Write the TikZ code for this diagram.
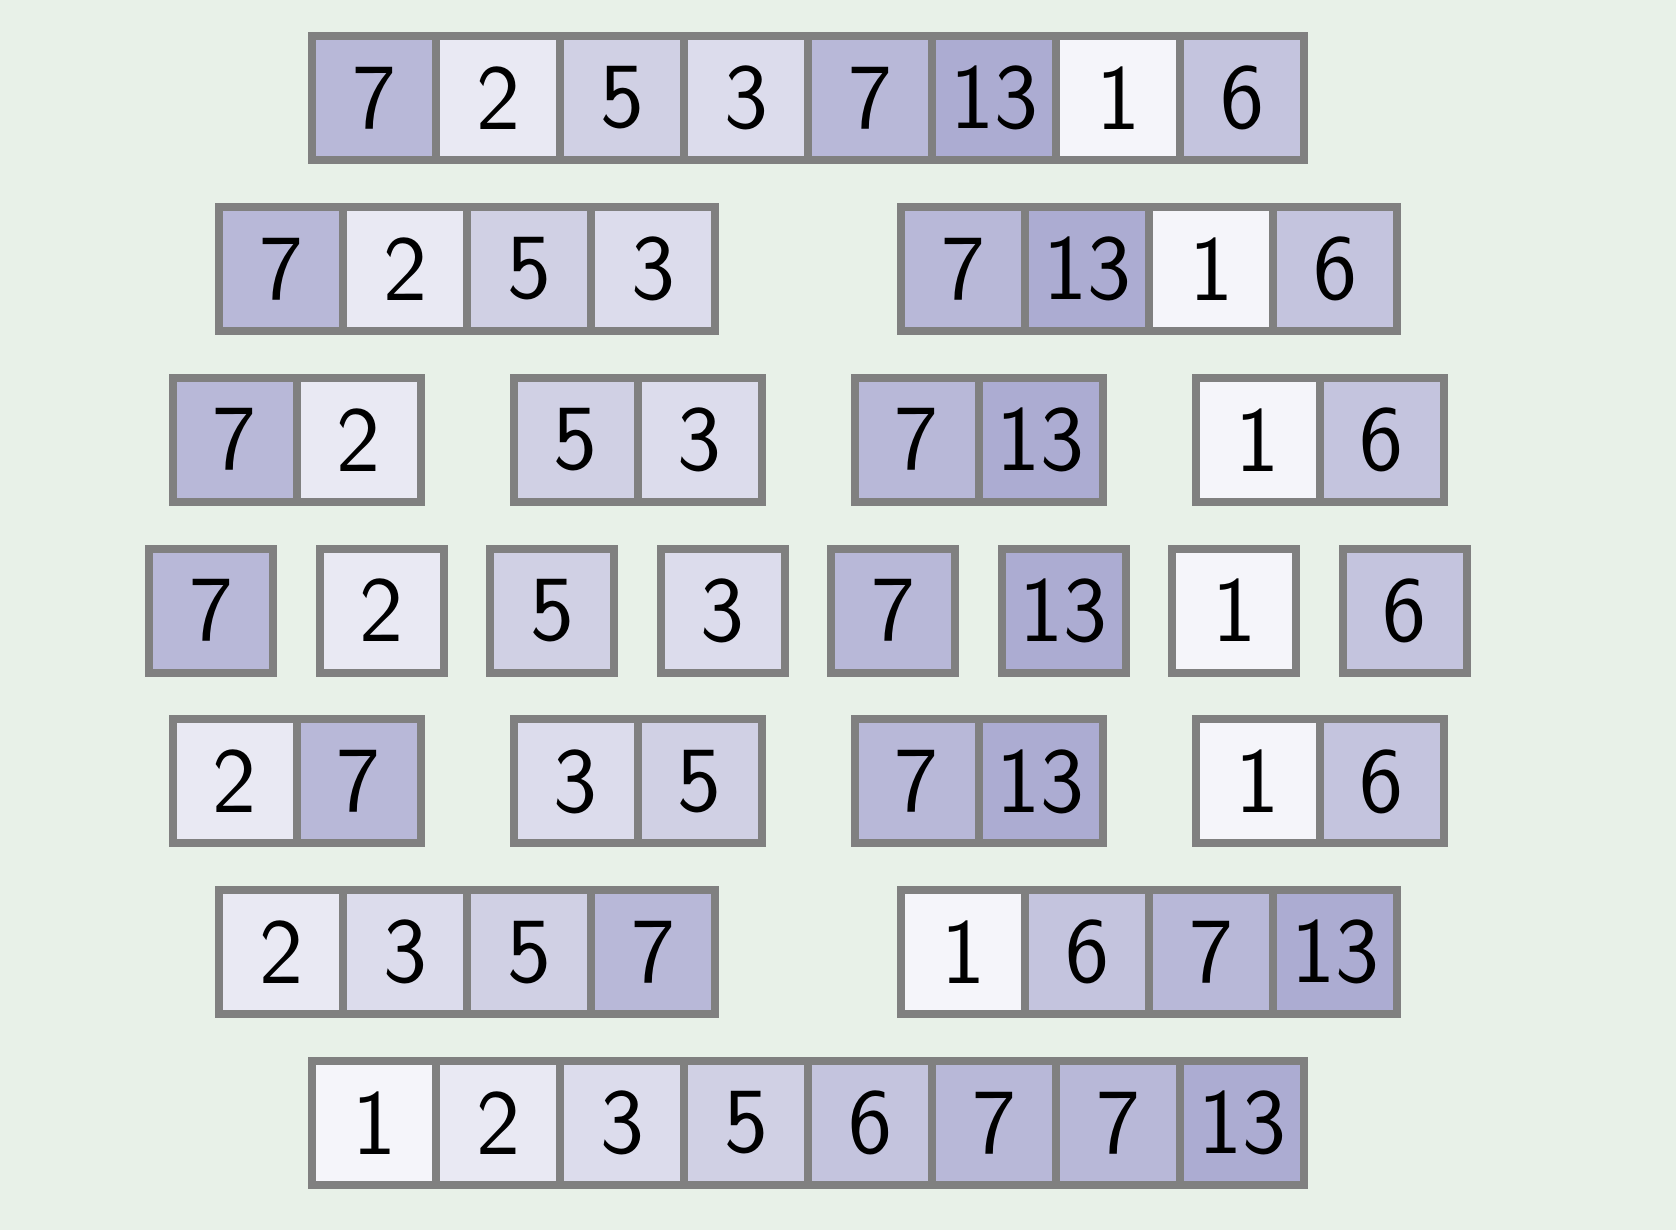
\documentclass[tikz,border=0pt]{standalone}
\usepackage{fontspec}
\usepackage{xcolor}
\usepackage{tikz}

\definecolor{bgreen}{RGB}{232,241,232}
\definecolor{rim}{RGB}{128,128,128}
\definecolor{vone}{RGB}{245,245,250}
\definecolor{vtwo}{RGB}{233,233,243}
\definecolor{vthree}{RGB}{220,220,236}
\definecolor{vfive}{RGB}{208,208,228}
\definecolor{vsix}{RGB}{196,196,222}
\definecolor{vseven}{RGB}{184,184,216}
\definecolor{vthirteen}{RGB}{172,172,210}

\begin{document}
\begin{tikzpicture}[x=0.75pt,y=0.75pt,yscale=-1,xscale=1,
  cell/.style={draw=rim,line width=6pt,minimum size=93pt,inner sep=0pt,
    font=\sffamily\fontsize{70}{70}\selectfont},
  v1/.style={cell,fill=vone},
  v2/.style={cell,fill=vtwo},
  v3/.style={cell,fill=vthree},
  v5/.style={cell,fill=vfive},
  v6/.style={cell,fill=vsix},
  v7/.style={cell,fill=vseven},
  v13/.style={cell,fill=vthirteen}]

\fill [bgreen] (0,0) rectangle (1676,1230);
\useasboundingbox (0,0) rectangle (1676,1230);

% input
\node [v7] (a1) at (374,98) {7};
\node [v2] (a2) at (498,98) {2};
\node [v5] (a3) at (622,98) {5};
\node [v3] (a4) at (746,98) {3};
\node [v7] (a5) at (870,98) {7};
\node [v13] (a6) at (994,98) {13};
\node [v1] (a7) at (1118,98) {1};
\node [v6] (a8) at (1242,98) {6};

% split in halves
\node [v7] (b1) at (281,268.85) {7};
\node [v2] (b2) at (405,268.85) {2};
\node [v5] (b3) at (529,268.85) {5};
\node [v3] (b4) at (653,268.85) {3};
\node [v7] (b5) at (963,268.85) {7};
\node [v13] (b6) at (1087,268.85) {13};
\node [v1] (b7) at (1211,268.85) {1};
\node [v6] (b8) at (1335,268.85) {6};

% split in pairs
\node [v7] (c1) at (234.5,439.7) {7};
\node [v2] (c2) at (358.5,439.7) {2};
\node [v5] (c3) at (575.5,439.7) {5};
\node [v3] (c4) at (699.5,439.7) {3};
\node [v7] (c5) at (916.5,439.7) {7};
\node [v13] (c6) at (1040.5,439.7) {13};
\node [v1] (c7) at (1257.5,439.7) {1};
\node [v6] (c8) at (1381.5,439.7) {6};

% single cells
\node [v7] (d1) at (211.25,610.55) {7};
\node [v2] (d2) at (381.75,610.55) {2};
\node [v5] (d3) at (552.25,610.55) {5};
\node [v3] (d4) at (722.75,610.55) {3};
\node [v7] (d5) at (893.25,610.55) {7};
\node [v13] (d6) at (1063.75,610.55) {13};
\node [v1] (d7) at (1234.25,610.55) {1};
\node [v6] (d8) at (1404.75,610.55) {6};

% merged pairs
\node [v2] (e1) at (234.5,781.4) {2};
\node [v7] (e2) at (358.5,781.4) {7};
\node [v3] (e3) at (575.5,781.4) {3};
\node [v5] (e4) at (699.5,781.4) {5};
\node [v7] (e5) at (916.5,781.4) {7};
\node [v13] (e6) at (1040.5,781.4) {13};
\node [v1] (e7) at (1257.5,781.4) {1};
\node [v6] (e8) at (1381.5,781.4) {6};

% merged halves
\node [v2] (f1) at (281,952.25) {2};
\node [v3] (f2) at (405,952.25) {3};
\node [v5] (f3) at (529,952.25) {5};
\node [v7] (f4) at (653,952.25) {7};
\node [v1] (f5) at (963,952.25) {1};
\node [v6] (f6) at (1087,952.25) {6};
\node [v7] (f7) at (1211,952.25) {7};
\node [v13] (f8) at (1335,952.25) {13};

% sorted
\node [v1] (g1) at (374,1123.1) {1};
\node [v2] (g2) at (498,1123.1) {2};
\node [v3] (g3) at (622,1123.1) {3};
\node [v5] (g4) at (746,1123.1) {5};
\node [v6] (g5) at (870,1123.1) {6};
\node [v7] (g6) at (994,1123.1) {7};
\node [v7] (g7) at (1118,1123.1) {7};
\node [v13] (g8) at (1242,1123.1) {13};

\end{tikzpicture}
\end{document}
